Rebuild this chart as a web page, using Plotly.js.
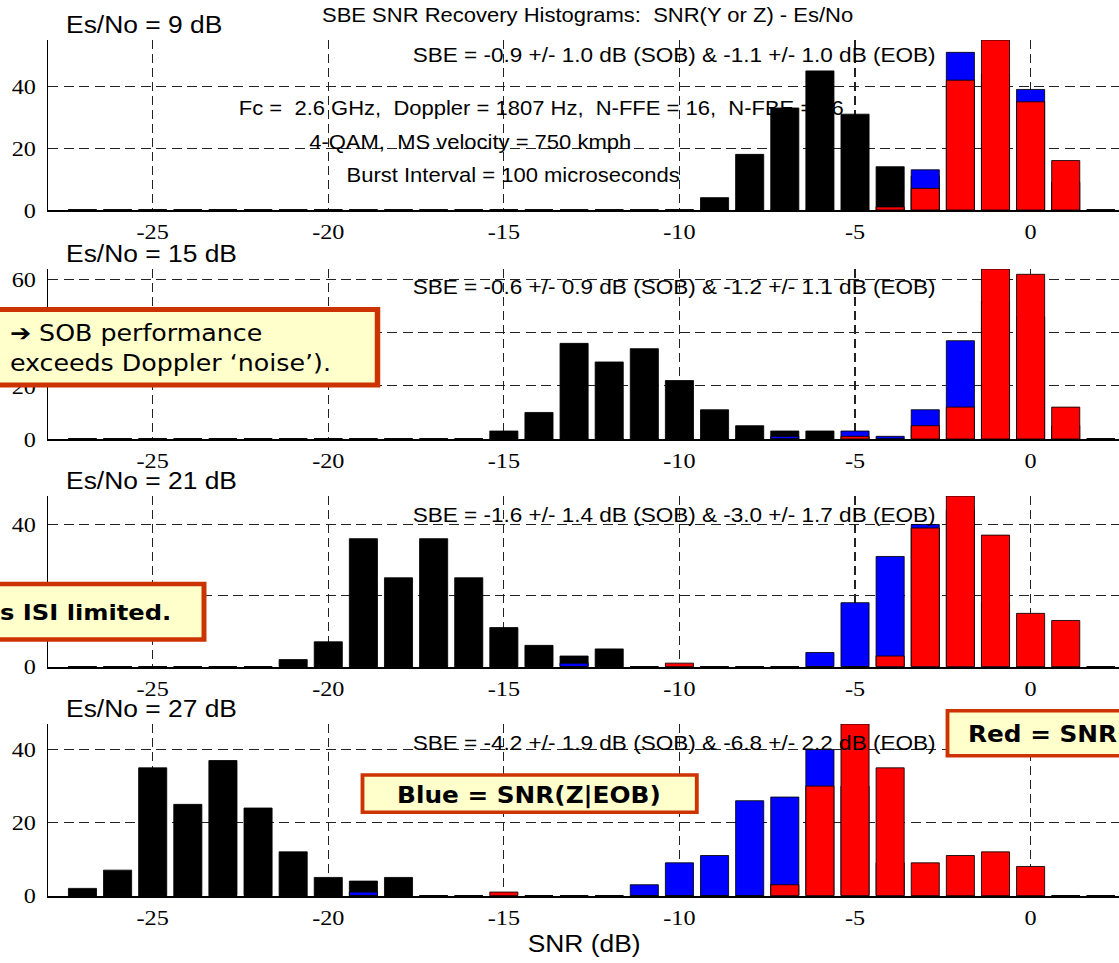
<!DOCTYPE html>
<html>
<head>
<meta charset="utf-8">
<script src="https://cdn.plot.ly/plotly-3.0.1.min.js"></script>
<style>
  html, body { margin: 0; padding: 0; overflow: hidden; background: #fff; }
  #chart { width: 1018px; height: 963px; transform: scaleX(1.1); transform-origin: 0 0; }
</style>
</head>
<body>
<div id="chart"></div>
<script>
// SNR histogram bins (dB), centre of each 1 dB bin
const snrBins = [-27,-26,-25,-24,-23,-22,-21,-20,-19,-18,-17,-16,-15,-14,-13,-12,-11,-10,-9,-8,-7,-6,-5,-4,-3,-2,-1,0,1,2];

// Es/No = 9 dB
const snrY_9    = [0,0,0,0,0,0,0,0,0,0, 0,0,0,0,0,0,0,0,4,18, 33,45,31,14,11,0,0,0,0,0];
const snrZeob_9 = [0,0,0,0,0,0,0,0,0,0, 0,0,0,0,0,0,0,0,0,0, 0,0,0,0,13,51,44,39,9,0];
const snrZsob_9 = [0,0,0,0,0,0,0,0,0,0, 0,0,0,0,0,0,0,0,0,0, 0,0,0,1,7,42,55,35,16,0];

// Es/No = 15 dB
const snrY_15    = [0,0,0,0,0,0,0,0,0,0, 0,0,3,10,36,29,34,22,11,5, 3,3,0,0,0,0,0,0,0,0];
const snrZeob_15 = [0,0,0,0,0,0,0,0,0,0, 0,0,0,0,0,0,0,0,0,0, 1,0,3,1,11,37,52,46,5,0];
const snrZsob_15 = [0,0,0,0,0,0,0,0,0,0, 0,0,0,0,0,0,0,0,0,0, 0,0,1,0,5,12,64,62,12,0];

// Es/No = 21 dB
const snrY_21    = [0,0,0,0,0,0,2,7,36,25, 36,25,11,6,3,5,0,0,0,0, 0,0,0,0,0,0,0,0,0,0];
const snrZeob_21 = [0,0,0,0,0,0,0,0,0,0, 0,0,0,0,1,0,0,0,0,0, 0,4,18,31,40,44,18,0,0,0];
const snrZsob_21 = [0,0,0,0,0,0,0,0,0,0, 0,0,0,0,0,0,0,1,0,0, 0,0,0,3,39,48,37,15,13,0];

// Es/No = 27 dB
const snrY_27    = [2,7,35,25,37,24,12,5,4,5, 0,0,0,0,0,0,0,0,0,0, 0,0,0,0,0,0,0,0,0,0];
const snrZeob_27 = [0,0,0,0,0,0,0,0,1,0, 0,0,0,0,0,0,3,9,11,26, 27,40,30,9,0,0,0,0,0,0];
const snrZsob_27 = [0,0,0,0,0,0,0,0,0,0, 0,0,1,0,0,0,0,0,0,0, 3,30,47,35,9,11,12,8,0,0];

const panelTitles = ['Es/No = 9 dB', 'Es/No = 15 dB', 'Es/No = 21 dB', 'Es/No = 27 dB'];
const sbeLabels = [
  'SBE = -0.9 +/- 1.0 dB (SOB) &amp; -1.1 +/- 1.0 dB (EOB)',
  'SBE = -0.6 +/- 0.9 dB (SOB) &amp; -1.2 +/- 1.1 dB (EOB)',
  'SBE = -1.6 +/- 1.4 dB (SOB) &amp; -3.0 +/- 1.7 dB (EOB)',
  'SBE = -4.2 +/- 1.9 dB (SOB) &amp; -6.8 +/- 2.2 dB (EOB)'
];
const setupLines = [
  'Fc =\u00a0 2.6 GHz,\u00a0 Doppler = 1807 Hz,\u00a0 N-FFE = 16,\u00a0 N-FBE = 16',
  '4-QAM,\u00a0 MS velocity = 750 kmph',
  'Burst Interval = 100 microseconds'
];
const yTickVals = [[0, 20, 40], [0, 20, 40, 60], [0, 20, 40], [0, 20, 40]];
const yMax = [55, 64, 48, 47];
const xTickVals = [-25, -20, -15, -10, -5, 0];
const xTickText = ['-25', '-20', '-15', '-10', '-5', '0'];

const seriesY    = [snrY_9, snrY_15, snrY_21, snrY_27];
const seriesZeob = [snrZeob_9, snrZeob_15, snrZeob_21, snrZeob_27];
const seriesZsob = [snrZsob_9, snrZsob_15, snrZsob_21, snrZsob_27];

// page geometry (figure is drawn 1018 px wide and stretched 1.1x horizontally)
const SX = 1.1, W = 1018, H = 963, ML = 44, PW = W - ML;
const px = xi => (xi / SX - ML) / PW;   // page x -> paper x
const py = yi => 1 - yi / H;            // page y -> paper y

// vertical extent of the four panels (page px: top, bottom)
const panelBox = [[40, 210], [269, 439], [496, 666.7], [724, 895.7]];

const traces = [];
const colors = [
  {fill: '#000000', line: '#000000'},
  {fill: '#0000FF', line: '#000000'},
  {fill: '#FF0000', line: '#000000'}
];
for (let k = 0; k < 4; k++) {
  const ax = k === 0 ? '' : String(k + 1);
  [seriesY[k], seriesZeob[k], seriesZsob[k]].forEach((vals, j) => {
    traces.push({
      type: 'bar', x: snrBins, y: vals, width: 0.8,
      xaxis: 'x' + ax, yaxis: 'y' + ax,
      marker: {color: colors[j].fill, line: {color: colors[j].line, width: 0.8}},
      showlegend: false, hoverinfo: 'skip'
    });
  });
}

const layout = {
  width: W, height: H,
  margin: {l: ML, r: 0, t: 0, b: 0},
  paper_bgcolor: '#fff', plot_bgcolor: '#fff',
  barmode: 'overlay', bargap: 0,
  showlegend: false,
  title: {
    text: 'SBE SNR Recovery Histograms:\u00a0 SNR(Y or Z) - Es/No',
    font: {family: 'Liberation Sans, Arial, sans-serif', size: 20, color: '#000'},
    xref: 'paper', x: px(587.6), xanchor: 'center',
    yref: 'container', y: py(15.5), yanchor: 'middle'
  },
  annotations: [], shapes: []
};

const gridStyle = {showgrid: true, gridcolor: '#222', gridwidth: 1, griddash: '9px,5px', zeroline: false};
const tickFont = {family: 'Liberation Serif, Times New Roman, serif', size: 22, color: '#000'};

for (let k = 0; k < 4; k++) {
  const ax = k === 0 ? '' : String(k + 1);
  const [top, bot] = panelBox[k];
  layout['xaxis' + ax] = Object.assign({
    domain: [0, 1], anchor: 'y' + ax, range: [-27.97, 2.54],
    tickvals: xTickVals, ticktext: xTickText, ticks: '',
    tickfont: tickFont, ticklabelstandoff: 1,
    showline: true, linecolor: '#000', linewidth: 2, automargin: false
  }, gridStyle);
  layout['yaxis' + ax] = Object.assign({
    domain: [py(bot), py(top)], anchor: 'x' + ax, range: [0, yMax[k]],
    tickvals: yTickVals[k], ticks: '', tickfont: tickFont, ticklabelstandoff: 6,
    showline: true, linecolor: '#000', linewidth: 1, automargin: false
  }, gridStyle);

  layout.annotations.push({
    text: panelTitles[k], xref: 'paper', yref: 'paper',
    x: px(64), y: py(top - 16), xanchor: 'left', yanchor: 'middle', showarrow: false,
    font: {family: 'Liberation Sans, Arial, sans-serif', size: 24, color: '#000'}
  });
}

const sbeY = [54.2, 286, 514, 742.5];
sbeLabels.forEach((t, k) => layout.annotations.push({
  text: t, xref: 'paper', yref: 'paper', x: px(674.5), y: py(sbeY[k]),
  xanchor: 'center', yanchor: 'middle', showarrow: false,
  font: {family: 'Liberation Sans, Arial, sans-serif', size: 20.5, color: '#000'}
}));

const setupX = [541, 470, 513.3], setupY = [107.5, 142.5, 174.7];
setupLines.forEach((t, i) => layout.annotations.push({
  text: t, xref: 'paper', yref: 'paper', x: px(setupX[i]), y: py(setupY[i]),
  xanchor: 'center', yanchor: 'middle', showarrow: false,
  font: {family: 'Liberation Sans, Arial, sans-serif', size: 20, color: '#000'}
}));

layout.xaxis4.title = {
  text: 'SNR (dB)', standoff: 6,
  font: {family: 'Liberation Sans, Arial, sans-serif', size: 24, color: '#000'}
};

// call-out boxes
const boxLine = '#CC3300', boxFill = '#FFFFCC';
function calloutBox(x0, x1, y0, y1, w) {
  layout.shapes.push({
    type: 'rect', xref: 'paper', yref: 'paper', layer: 'above',
    x0: px(x0), x1: px(x1), y0: py(y1), y1: py(y0),
    line: {color: boxLine, width: w}, fillcolor: boxFill
  });
}
function calloutText(text, x, y, anchor, size, bold) {
  layout.annotations.push({
    text: bold ? '<b>' + text + '</b>' : text,
    xref: 'paper', yref: 'paper', x: px(x), y: py(y),
    xanchor: anchor, yanchor: 'middle', align: 'left', showarrow: false,
    font: {family: 'DejaVu Sans, Verdana, sans-serif', size: size, color: '#000'}
  });
}
calloutBox(-40, 377.5, 309.5, 385, 5);
calloutText('\u2794 SOB performance<br>exceeds Doppler \u2018noise\u2019).', 8, 348, 'left', 23, false);
calloutBox(-40, 204, 584, 639.5, 4.5);
calloutText('s ISI limited.', -2, 612, 'left', 22, true);
calloutBox(362.5, 696.8, 775, 812.3, 3.5);
calloutText('Blue = SNR(Z|EOB)', 529, 795, 'center', 22.5, true);
calloutBox(947.5, 1250, 710.8, 755.8, 3.5);
calloutText('Red = SNR(Z|SOB)', 966, 734, 'left', 22.5, true);

Plotly.newPlot('chart', traces, layout, {displayModeBar: false, staticPlot: true});
</script>
</body>
</html>
